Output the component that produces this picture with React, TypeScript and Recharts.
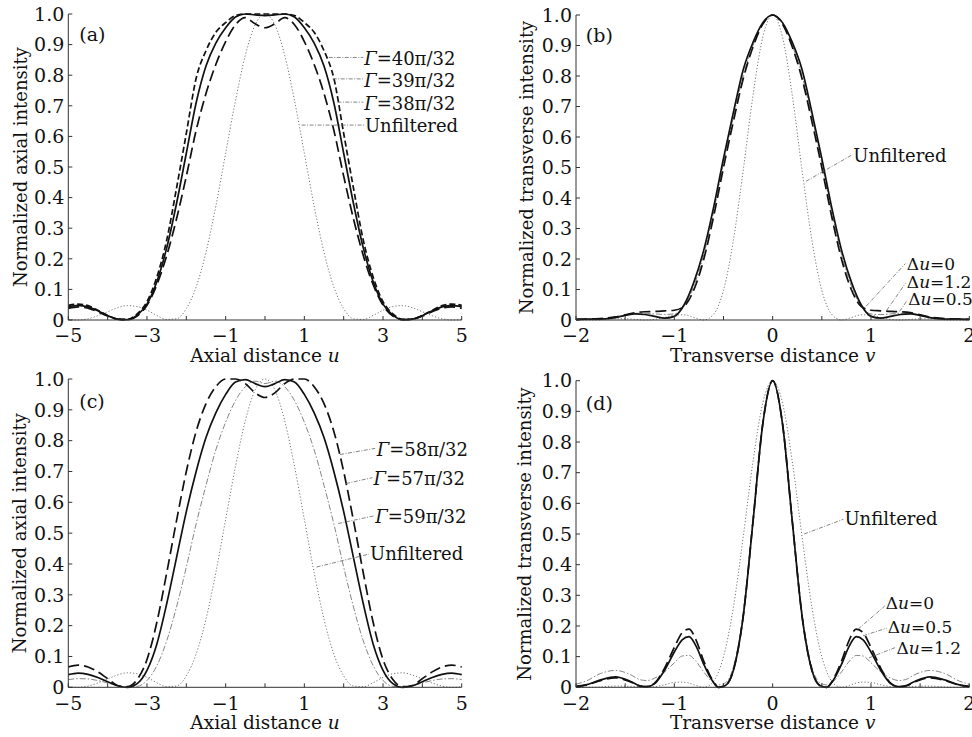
import { useMemo } from 'react'
import { LineChart, Line, XAxis, YAxis, ReferenceLine, ReferenceDot } from 'recharts'

// ─── Data ─────────────────────────────────────────────────────────────────────

// axial distance u, panels (a) and (c)
const axialU = [
  -5, -4.75, -4.5, -4.25, -4, -3.75, -3.5, -3.25, -3, -2.75, -2.5, -2.25, -2, -1.75, -1.5, -1.25, -1, -0.75, -0.5, -0.25,
  0, 0.25, 0.5, 0.75, 1, 1.25, 1.5, 1.75, 2, 2.25, 2.5, 2.75, 3, 3.25, 3.5, 3.75, 4, 4.25, 4.5, 4.75, 5,
]
const axialUnfiltered = [
  0.002, 0.0, 0.004, 0.014, 0.027, 0.04, 0.047, 0.044, 0.032, 0.015, 0.002, 0.004, 0.037, 0.108, 0.221, 0.372, 0.545, 0.717, 0.865, 0.965,
  1.0, 0.965, 0.865, 0.717, 0.545, 0.372, 0.221, 0.108, 0.037, 0.004, 0.002, 0.015, 0.032, 0.044, 0.047, 0.04, 0.027, 0.014, 0.004, 0.0, 0.002,
]
const gamma40 = [
  0.048, 0.052, 0.047, 0.032, 0.015, 0.003, 0.002, 0.02, 0.06, 0.14, 0.26, 0.43, 0.61, 0.79, 0.88, 0.94, 0.972, 0.995, 1.0, 1.0,
  1.0, 1.0, 1.0, 0.995, 0.972, 0.94, 0.88, 0.79, 0.61, 0.43, 0.26, 0.14, 0.06, 0.02, 0.002, 0.003, 0.015, 0.032, 0.047, 0.052, 0.048,
]
const gamma39 = [
  0.043, 0.048, 0.043, 0.03, 0.014, 0.003, 0.001, 0.016, 0.052, 0.125, 0.235, 0.38, 0.545, 0.71, 0.83, 0.905, 0.955, 0.99, 1.0, 0.997,
  0.995, 0.997, 1.0, 0.99, 0.955, 0.905, 0.83, 0.71, 0.545, 0.38, 0.235, 0.125, 0.052, 0.016, 0.001, 0.003, 0.014, 0.03, 0.043, 0.048, 0.043,
]
const gamma38 = [
  0.038, 0.043, 0.039, 0.027, 0.013, 0.003, 0.001, 0.013, 0.048, 0.115, 0.21, 0.33, 0.47, 0.62, 0.74, 0.835, 0.91, 0.965, 0.988, 0.968,
  0.955, 0.968, 0.988, 0.965, 0.91, 0.835, 0.74, 0.62, 0.47, 0.33, 0.21, 0.115, 0.048, 0.013, 0.001, 0.003, 0.013, 0.027, 0.039, 0.043, 0.038,
]
const gamma58 = [
  0.066, 0.072, 0.066, 0.05, 0.028, 0.006, 0.002, 0.025, 0.09, 0.21, 0.37, 0.54, 0.7, 0.83, 0.92, 0.975, 1.0, 1.0, 0.985, 0.955,
  0.94, 0.955, 0.985, 1.0, 1.0, 0.975, 0.92, 0.83, 0.7, 0.54, 0.37, 0.21, 0.09, 0.025, 0.002, 0.006, 0.028, 0.05, 0.066, 0.072, 0.066,
]
const gamma57 = [
  0.041, 0.046, 0.042, 0.032, 0.018, 0.005, 0.0, 0.012, 0.055, 0.14, 0.27, 0.42, 0.57, 0.7, 0.81, 0.89, 0.95, 0.99, 0.998, 0.985,
  0.975, 0.985, 0.998, 0.99, 0.95, 0.89, 0.81, 0.7, 0.57, 0.42, 0.27, 0.14, 0.055, 0.012, 0.0, 0.005, 0.018, 0.032, 0.042, 0.046, 0.041,
]
const gamma59 = [
  0.025, 0.028, 0.027, 0.022, 0.014, 0.006, 0.001, 0.003, 0.022, 0.07, 0.15, 0.26, 0.39, 0.53, 0.655, 0.77, 0.86, 0.93, 0.975, 0.993,
  0.985, 0.993, 0.975, 0.93, 0.86, 0.77, 0.655, 0.53, 0.39, 0.26, 0.15, 0.07, 0.022, 0.003, 0.001, 0.006, 0.014, 0.022, 0.027, 0.028, 0.025,
]

// transverse distance v, panel (b)
const transV = [
  -2, -1.9, -1.8, -1.7, -1.6, -1.5, -1.4, -1.3, -1.2, -1.1, -1, -0.9, -0.8, -0.7, -0.6, -0.5, -0.4, -0.3, -0.2, -0.1,
  0, 0.1, 0.2, 0.3, 0.4, 0.5, 0.6, 0.7, 0.8, 0.9, 1, 1.1, 1.2, 1.3, 1.4, 1.5, 1.6, 1.7, 1.8, 1.9, 2,
]
const transUnfilteredB = [
  0.001, 0.0, 0.0, 0.002, 0.004, 0.004, 0.002, 0.0, 0.002, 0.008, 0.016, 0.017, 0.008, 0.0, 0.019, 0.097, 0.26, 0.489, 0.736, 0.928,
  1.0, 0.928, 0.736, 0.489, 0.26, 0.097, 0.019, 0.0, 0.008, 0.017, 0.016, 0.008, 0.002, 0.0, 0.002, 0.004, 0.004, 0.002, 0.0, 0.0, 0.001,
]
const du0B = [
  0.002, 0.003, 0.003, 0.004, 0.008, 0.015, 0.02, 0.018, 0.012, 0.006, 0.012, 0.05, 0.125, 0.23, 0.37, 0.53, 0.68, 0.82, 0.91, 0.975,
  1.0, 0.975, 0.91, 0.82, 0.68, 0.53, 0.37, 0.23, 0.125, 0.05, 0.012, 0.006, 0.012, 0.018, 0.02, 0.015, 0.008, 0.004, 0.003, 0.003, 0.002,
]
const du12B = [
  0.002, 0.003, 0.004, 0.006, 0.01, 0.017, 0.024, 0.027, 0.028, 0.03, 0.032, 0.045, 0.1, 0.2, 0.34, 0.5, 0.65, 0.79, 0.895, 0.97,
  1.0, 0.97, 0.895, 0.79, 0.65, 0.5, 0.34, 0.2, 0.1, 0.045, 0.032, 0.03, 0.028, 0.027, 0.024, 0.017, 0.01, 0.006, 0.004, 0.003, 0.002,
]
const du05B = [
  0.002, 0.003, 0.003, 0.005, 0.009, 0.016, 0.022, 0.022, 0.02, 0.018, 0.02, 0.045, 0.112, 0.215, 0.355, 0.515, 0.665, 0.8, 0.9, 0.972,
  1.0, 0.972, 0.9, 0.8, 0.665, 0.515, 0.355, 0.215, 0.112, 0.045, 0.02, 0.018, 0.02, 0.022, 0.022, 0.016, 0.009, 0.005, 0.003, 0.003, 0.002,
]

// transverse distance v, panel (d)
const transVD = [
  -2, -1.9, -1.75, -1.6, -1.45, -1.35, -1.28, -1.2, -1.1, -1, -0.92, -0.85, -0.78, -0.7, -0.62, -0.55, -0.48, -0.4, -0.3, -0.2, -0.1,
  0, 0.1, 0.2, 0.3, 0.4, 0.48, 0.55, 0.62, 0.7, 0.78, 0.85, 0.92, 1, 1.1, 1.2, 1.28, 1.35, 1.45, 1.6, 1.75, 1.9, 2,
]
const transUnfilteredD = [
  0.001, 0.0, 0.001, 0.004, 0.003, 0.001, 0.0, 0.002, 0.008, 0.016, 0.017, 0.014, 0.006, 0.0, 0.012, 0.051, 0.125, 0.26, 0.489, 0.736, 0.928,
  1.0, 0.928, 0.736, 0.489, 0.26, 0.125, 0.051, 0.012, 0.0, 0.006, 0.014, 0.017, 0.016, 0.008, 0.002, 0.0, 0.001, 0.003, 0.004, 0.001, 0.0, 0.001,
]
const du0D = [
  0.002, 0.007, 0.022, 0.031, 0.018, 0.004, 0.002, 0.014, 0.062, 0.13, 0.178, 0.19, 0.155, 0.085, 0.028, 0.0, 0.006, 0.055, 0.23, 0.54, 0.86,
  1.0, 0.86, 0.54, 0.23, 0.055, 0.006, 0.0, 0.028, 0.085, 0.155, 0.19, 0.178, 0.13, 0.062, 0.014, 0.002, 0.004, 0.018, 0.031, 0.022, 0.007, 0.002,
]
const du05D = [
  0.003, 0.008, 0.024, 0.034, 0.02, 0.005, 0.002, 0.012, 0.055, 0.115, 0.155, 0.165, 0.135, 0.075, 0.025, 0.0, 0.006, 0.055, 0.23, 0.54, 0.86,
  1.0, 0.86, 0.54, 0.23, 0.055, 0.006, 0.0, 0.025, 0.075, 0.135, 0.165, 0.155, 0.115, 0.055, 0.012, 0.002, 0.005, 0.02, 0.034, 0.024, 0.008, 0.003,
]
const du12D = [
  0.01, 0.02, 0.045, 0.055, 0.042, 0.025, 0.022, 0.03, 0.05, 0.08, 0.102, 0.104, 0.085, 0.05, 0.02, 0.008, 0.015, 0.065, 0.24, 0.55, 0.865,
  1.0, 0.865, 0.55, 0.24, 0.065, 0.015, 0.008, 0.02, 0.05, 0.085, 0.104, 0.102, 0.08, 0.05, 0.03, 0.022, 0.025, 0.042, 0.055, 0.045, 0.02, 0.01,
]

// ticks
const axialTicks = [-5, -4, -3, -2, -1, 0, 1, 2, 3, 4, 5]
const transTicks = [-2, -1.5, -1, -0.5, 0, 0.5, 1, 1.5, 2]
const intensityTicks = [0, 0.1, 0.2, 0.3, 0.4, 0.5, 0.6, 0.7, 0.8, 0.9, 1.0]

// labels
const labelsA = ['Γ=40π/32', 'Γ=39π/32', 'Γ=38π/32', 'Unfiltered']
const labelsB = ['Unfiltered', 'Δu=0', 'Δu=1.2', 'Δu=0.5']
const labelsC = ['Γ=58π/32', 'Γ=57π/32', 'Γ=59π/32', 'Unfiltered']
const labelsD = ['Unfiltered', 'Δu=0', 'Δu=0.5', 'Δu=1.2']

// ─── Styles ───────────────────────────────────────────────────────────────────

const FONT = '"DejaVu Serif", "Liberation Serif", serif'
const INK = '#111'

type LineStyle = { stroke: string; strokeWidth: number; strokeDasharray?: string }

const STYLES: Record<string, LineStyle> = {
  solid: { stroke: '#111', strokeWidth: 1.7 },
  shortDash: { stroke: '#111', strokeWidth: 1.7, strokeDasharray: '6 3' },
  longDash: { stroke: '#111', strokeWidth: 1.7, strokeDasharray: '11 5' },
  dotted: { stroke: '#666', strokeWidth: 0.9, strokeDasharray: '1.2 2' },
  dashDot: { stroke: '#777', strokeWidth: 0.9, strokeDasharray: '6 2 1.5 2' },
}

// ─── Types ────────────────────────────────────────────────────────────────────

interface SeriesDef {
  key: string
  values: number[]
  style: LineStyle
}

interface NoteDef {
  text: string
  at: [number, number]
  from: [number, number]
  to: [number, number]
}

interface PanelCfg {
  left: number
  top: number
  width: number
  height: number
  mTop: number
  mRight: number
  yW: number
  xH: number
  x: number[]
  domain: [number, number]
  xTicks: number[]
  showTick: (v: number) => boolean
  series: SeriesDef[]
  notes: NoteDef[]
  letter: string
  letterAt: [number, number]
  yTitle: string
  yTitleX: number
  xTitle: string
  xVar: string
}

// ─── Helpers ─────────────────────────────────────────────────────────────────

function fmtNum(v: number) {
  return String(v).replace('-', '\u2212')
}

function fmtY(v: number) {
  return v === 0 ? '0' : v.toFixed(1)
}

function rich(text: string) {
  if (text.startsWith('Γ'))
    return [
      <tspan key="g" fontStyle="italic">Γ</tspan>,
      <tspan key="r">{text.slice(1)}</tspan>,
    ]
  if (text.startsWith('Δu'))
    return [
      <tspan key="d">Δ</tspan>,
      <tspan key="u" fontStyle="italic">u</tspan>,
      <tspan key="r">{text.slice(2)}</tspan>,
    ]
  return text
}

function NoteText({ viewBox, text, size }: { viewBox?: any; text: string; size?: number }) {
  if (!viewBox) return null
  const fs = size ?? (text.startsWith('Δ') ? 17 : 18)
  return (
    <text x={viewBox.x} y={viewBox.y} dominantBaseline="central" fill={INK} fontSize={fs} fontFamily={FONT}>
      {rich(text)}
    </text>
  )
}

// ─── Panel ────────────────────────────────────────────────────────────────────

function Panel({ cfg }: { cfg: PanelCfg }) {
  const rows = useMemo(
    () =>
      cfg.x.map((xv, i) => {
        const row: Record<string, number> = { x: xv }
        cfg.series.forEach((s) => (row[s.key] = s.values[i]))
        return row
      }),
    [cfg],
  )

  const tickStyle = { fill: INK, fontSize: 19, fontFamily: FONT }

  return (
    <div style={{ position: 'absolute', left: cfg.left, top: cfg.top }}>
      <LineChart
        width={cfg.width}
        height={cfg.height}
        data={rows}
        margin={{ top: cfg.mTop, right: cfg.mRight, bottom: 0, left: 0 }}
      >
        <XAxis
          xAxisId="b"
          dataKey="x"
          type="number"
          domain={cfg.domain}
          ticks={cfg.xTicks}
          interval={0}
          height={cfg.xH}
          tickSize={-4}
          tickMargin={13}
          tickFormatter={(v: number) => (cfg.showTick(v) ? fmtNum(v) : '')}
          tick={tickStyle}
          stroke="#333"
          label={(p: any) => {
            const vb = p.viewBox
            if (!vb) return null
            return (
              <text x={vb.x + vb.width / 2} y={vb.y + 42} textAnchor="middle" fill={INK} fontSize={18.5} fontFamily={FONT}>
                {cfg.xTitle}
                <tspan fontStyle="italic">{cfg.xVar}</tspan>
              </text>
            )
          }}
        />
        <XAxis
          xAxisId="t"
          orientation="top"
          dataKey="x"
          type="number"
          domain={cfg.domain}
          ticks={cfg.xTicks}
          interval={0}
          height={0}
          tickSize={-4}
          tickFormatter={() => ''}
          stroke="#333"
        />
        <YAxis
          yAxisId="l"
          type="number"
          domain={[0, 1]}
          ticks={intensityTicks}
          interval={0}
          width={cfg.yW}
          tickSize={-4}
          tickMargin={8}
          tickFormatter={fmtY}
          tick={tickStyle}
          stroke="#333"
          label={(p: any) => {
            const vb = p.viewBox
            if (!vb) return null
            const cx = vb.x + cfg.yTitleX
            const cy = vb.y + vb.height / 2
            return (
              <text
                x={cx}
                y={cy}
                transform={`rotate(-90 ${cx} ${cy})`}
                textAnchor="middle"
                dominantBaseline="central"
                fill={INK}
                fontSize={18}
                fontFamily={FONT}
              >
                {cfg.yTitle}
              </text>
            )
          }}
        />
        <YAxis
          yAxisId="r"
          orientation="right"
          type="number"
          domain={[0, 1]}
          ticks={intensityTicks}
          interval={0}
          width={0}
          tickSize={-4}
          tickFormatter={() => ''}
          stroke="#333"
        />

        {cfg.series.map((s) => (
          <Line
            key={s.key}
            xAxisId="b"
            yAxisId="l"
            type="monotone"
            dataKey={s.key}
            dot={false}
            activeDot={false}
            isAnimationActive={false}
            stroke={s.style.stroke}
            strokeWidth={s.style.strokeWidth}
            strokeDasharray={s.style.strokeDasharray}
          />
        ))}

        {cfg.notes.map((n) => (
          <ReferenceLine
            key={'l' + n.text}
            xAxisId="b"
            yAxisId="l"
            segment={[
              { x: n.from[0], y: n.from[1] },
              { x: n.to[0], y: n.to[1] },
            ]}
            stroke="#666"
            strokeWidth={0.8}
            strokeDasharray="4 1.5 1 1.5"
            ifOverflow="visible"
          />
        ))}
        {cfg.notes.map((n) => (
          <ReferenceDot
            key={'t' + n.text}
            xAxisId="b"
            yAxisId="l"
            x={n.at[0]}
            y={n.at[1]}
            r={0}
            fill="none"
            stroke="none"
            ifOverflow="visible"
            label={(p: any) => <NoteText viewBox={p.viewBox} text={n.text} />}
          />
        ))}
        <ReferenceDot
          xAxisId="b"
          yAxisId="l"
          x={cfg.letterAt[0]}
          y={cfg.letterAt[1]}
          r={0}
          fill="none"
          stroke="none"
          ifOverflow="visible"
          label={(p: any) => <NoteText viewBox={p.viewBox} text={cfg.letter} size={19} />}
        />
      </LineChart>
    </div>
  )
}

// ─── Panels ───────────────────────────────────────────────────────────────────

const oddOnly = (v: number) => Math.abs(v) % 2 === 1
const intOnly = (v: number) => Number.isInteger(v)

const panelA: PanelCfg = {
  left: 0,
  top: 0,
  width: 486,
  height: 368,
  mTop: 14,
  mRight: 24.3,
  yW: 68.3,
  xH: 48,
  x: axialU,
  domain: [-5, 5],
  xTicks: axialTicks,
  showTick: oddOnly,
  series: [
    { key: 'unf', values: axialUnfiltered, style: STYLES.dotted },
    { key: 'g38', values: gamma38, style: STYLES.longDash },
    { key: 'g39', values: gamma39, style: STYLES.solid },
    { key: 'g40', values: gamma40, style: STYLES.shortDash },
  ],
  notes: [
    { text: labelsA[0], at: [2.52, 0.855], from: [1.62, 0.858], to: [2.5, 0.858] },
    { text: labelsA[1], at: [2.52, 0.785], from: [1.72, 0.788], to: [2.5, 0.788] },
    { text: labelsA[2], at: [2.52, 0.71], from: [1.84, 0.712], to: [2.5, 0.712] },
    { text: labelsA[3], at: [2.54, 0.635], from: [0.93, 0.637], to: [2.52, 0.637] },
  ],
  letter: '(a)',
  letterAt: [-4.72, 0.935],
  yTitle: 'Normalized axial intensity',
  yTitleX: 20,
  xTitle: 'Axial distance ',
  xVar: 'u',
}

const panelB: PanelCfg = {
  left: 486,
  top: 0,
  width: 486,
  height: 368,
  mTop: 15,
  mRight: 2.7,
  yW: 90,
  xH: 48,
  x: transV,
  domain: [-2, 2],
  xTicks: transTicks,
  showTick: intOnly,
  series: [
    { key: 'unf', values: transUnfilteredB, style: STYLES.dotted },
    { key: 'd05', values: du05B, style: STYLES.dashDot },
    { key: 'd12', values: du12B, style: STYLES.longDash },
    { key: 'd0', values: du0B, style: STYLES.solid },
  ],
  notes: [
    { text: labelsB[0], at: [0.82, 0.54], from: [0.34, 0.455], to: [0.8, 0.54] },
    { text: labelsB[1], at: [1.365, 0.182], from: [0.95, 0.045], to: [1.35, 0.185] },
    { text: labelsB[2], at: [1.365, 0.125], from: [1.16, 0.032], to: [1.35, 0.12] },
    { text: labelsB[3], at: [1.38, 0.07], from: [1.29, 0.028], to: [1.37, 0.065] },
  ],
  letter: '(b)',
  letterAt: [-1.9, 0.933],
  yTitle: 'Normalized transverse intensity',
  yTitleX: 40,
  xTitle: 'Transverse distance ',
  xVar: 'v',
}

const panelC: PanelCfg = {
  left: 0,
  top: 368,
  width: 486,
  height: 369,
  mTop: 11,
  mRight: 24.3,
  yW: 68.3,
  xH: 49.7,
  x: axialU,
  domain: [-5, 5],
  xTicks: axialTicks,
  showTick: oddOnly,
  series: [
    { key: 'unf', values: axialUnfiltered, style: STYLES.dotted },
    { key: 'g59', values: gamma59, style: STYLES.dashDot },
    { key: 'g57', values: gamma57, style: STYLES.solid },
    { key: 'g58', values: gamma58, style: STYLES.longDash },
  ],
  notes: [
    { text: labelsC[0], at: [2.84, 0.772], from: [1.91, 0.755], to: [2.8, 0.775] },
    { text: labelsC[1], at: [2.76, 0.68], from: [2.06, 0.661], to: [2.73, 0.68] },
    { text: labelsC[2], at: [2.8, 0.557], from: [1.86, 0.531], to: [2.77, 0.556] },
    { text: labelsC[3], at: [2.67, 0.435], from: [1.31, 0.39], to: [2.64, 0.432] },
  ],
  letter: '(c)',
  letterAt: [-4.72, 0.93],
  yTitle: 'Normalized axial intensity',
  yTitleX: 20,
  xTitle: 'Axial distance ',
  xVar: 'u',
}

const panelD: PanelCfg = {
  left: 486,
  top: 368,
  width: 486,
  height: 369,
  mTop: 12.7,
  mRight: 2.7,
  yW: 90,
  xH: 49.7,
  x: transVD,
  domain: [-2, 2],
  xTicks: transTicks,
  showTick: intOnly,
  series: [
    { key: 'unf', values: transUnfilteredD, style: STYLES.dotted },
    { key: 'd12', values: du12D, style: STYLES.dashDot },
    { key: 'd0', values: du0D, style: STYLES.longDash },
    { key: 'd05', values: du05D, style: STYLES.solid },
  ],
  notes: [
    { text: labelsD[0], at: [0.73, 0.55], from: [0.32, 0.5], to: [0.72, 0.548] },
    { text: labelsD[1], at: [1.15, 0.275], from: [0.87, 0.19], to: [1.14, 0.265] },
    { text: labelsD[2], at: [1.17, 0.196], from: [0.92, 0.168], to: [1.16, 0.193] },
    { text: labelsD[3], at: [1.26, 0.128], from: [0.98, 0.096], to: [1.25, 0.13] },
  ],
  letter: '(d)',
  letterAt: [-1.9, 0.928],
  yTitle: 'Normalized transverse intensity',
  yTitleX: 38,
  xTitle: 'Transverse distance ',
  xVar: 'v',
}

// ─── Component ────────────────────────────────────────────────────────────────

export default function App() {
  return (
    <div
      style={{
        position: 'absolute',
        left: 0,
        top: 0,
        width: 972,
        height: 737,
        background: '#fff',
        overflow: 'hidden',
      }}
    >
      <Panel cfg={panelA} />
      <Panel cfg={panelB} />
      <Panel cfg={panelC} />
      <Panel cfg={panelD} />
    </div>
  )
}
